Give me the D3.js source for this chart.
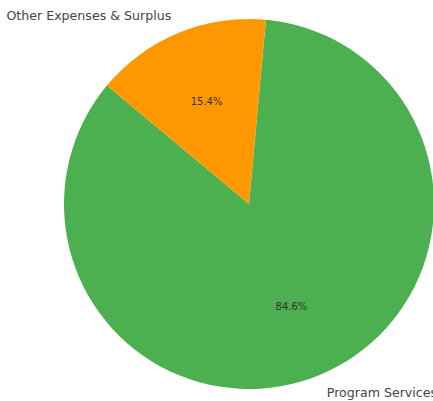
<!DOCTYPE html>
<html>
<head>
<meta charset="utf-8">
<script src="https://cdn.jsdelivr.net/npm/d3@7"></script>
<style>
html,body{margin:0;padding:0;background:#fff;}
svg{display:block;}
</style>
</head>
<body>
<svg id="chart" width="433" height="401"></svg>
<script>
const categories = ["Program Services", "Other Expenses & Surplus"];
const values = [84.6, 15.4];
const colors = ["#4CAF50", "#FF9800"];

const svg = d3.select("#chart");
const cx = 249, cy = 204, r = 185;
const g = svg.append("g").attr("transform", `translate(${cx},${cy})`);

const data = categories.map((c, i) => ({name: c, value: values[i], color: colors[i]}));
const start = 5.25 * Math.PI / 180;
const pie = d3.pie().sort(null).value(d => d.value).startAngle(start).endAngle(start + 2 * Math.PI);
const arcs = pie(data);
const arc = d3.arc().innerRadius(0).outerRadius(r);

g.selectAll("path").data(arcs).enter().append("path")
  .attr("d", arc)
  .attr("fill", d => d.data.color);

const total = d3.sum(values);
function pos(a, f) { return [Math.sin(a) * r * f, -Math.cos(a) * r * f]; }

g.selectAll("text.lab").data(arcs).enter().append("text")
  .attr("class", "lab")
  .each(function(d) {
    const m = (d.startAngle + d.endAngle) / 2;
    const [x, y] = pos(m, 1.1);
    d3.select(this).attr("x", x).attr("y", y)
      .attr("text-anchor", x < 0 ? "end" : "start");
  })
  .attr("dominant-baseline", "central")
  .attr("font-family", "DejaVu Sans, sans-serif")
  .attr("font-size", 12.6)
  .attr("fill", "#444")
  .text(d => d.data.name);

g.selectAll("text.pct").data(arcs).enter().append("text")
  .attr("class", "pct")
  .each(function(d) {
    const m = (d.startAngle + d.endAngle) / 2;
    const [x, y] = pos(m, 0.6);
    d3.select(this).attr("x", x).attr("y", y);
  })
  .attr("text-anchor", "middle")
  .attr("dominant-baseline", "central")
  .attr("font-family", "DejaVu Sans, sans-serif")
  .attr("font-size", 10)
  .attr("fill", "#333")
  .text(d => (d.data.value / total * 100).toFixed(1) + "%");
</script>
</body>
</html>
